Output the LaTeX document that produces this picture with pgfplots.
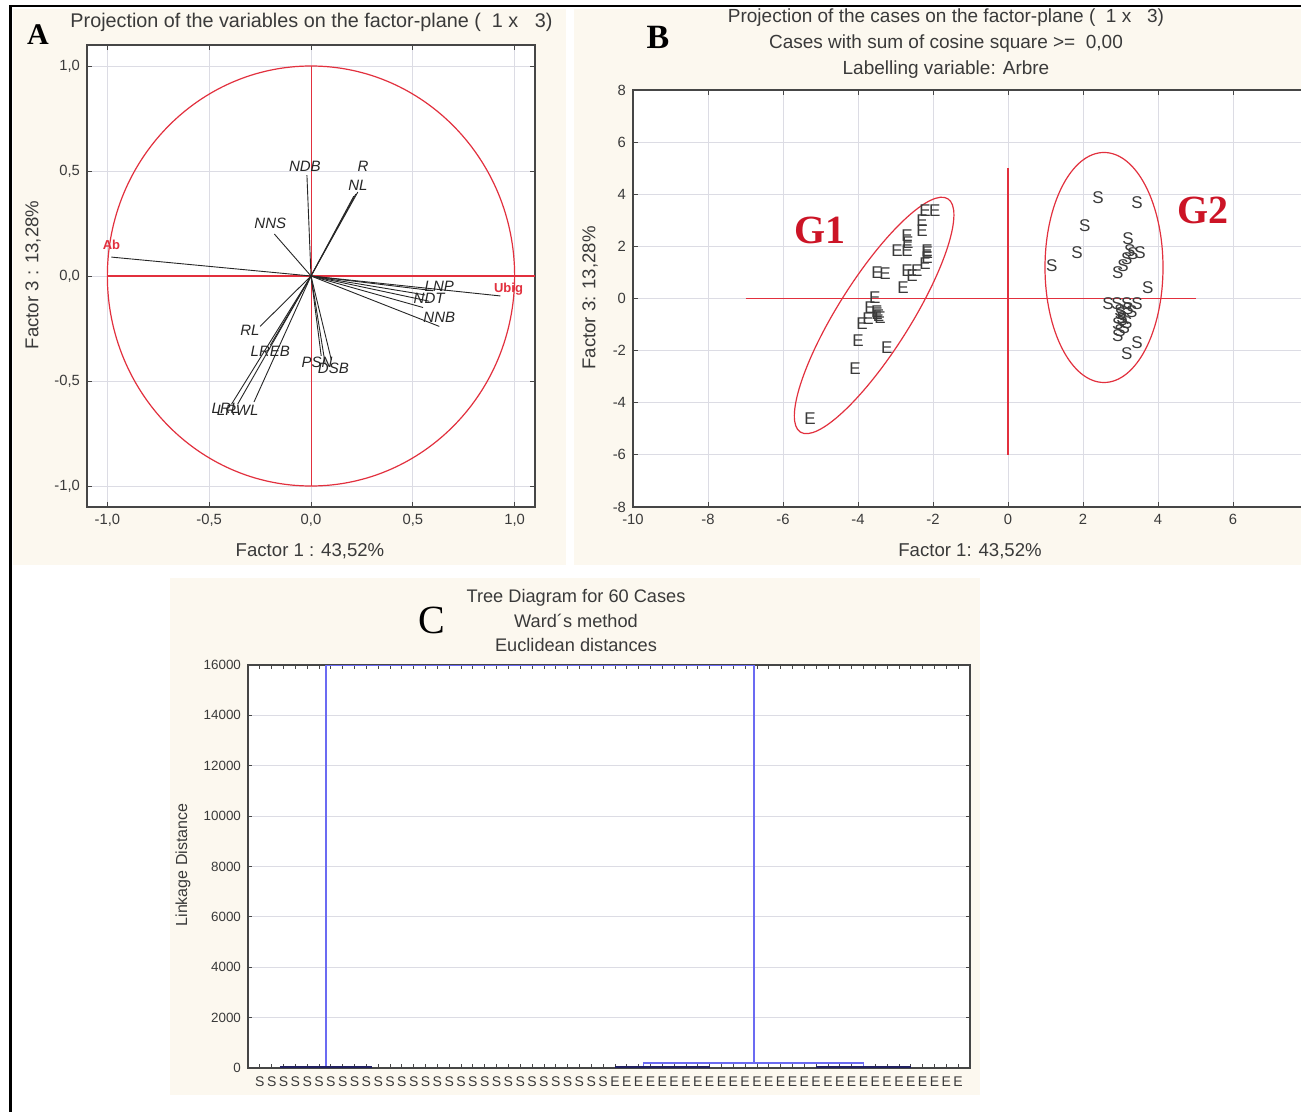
\documentclass[border=0pt]{standalone}
\usepackage{pgfplots}
\pgfplotsset{compat=1.18}
\usepackage{fontspec}
\setmainfont{Liberation Sans}
\newfontfamily\timesfont{Liberation Serif}
\definecolor{panelbg}{HTML}{FCF8EF}
\definecolor{pcared}{HTML}{E2303E}
\definecolor{grpred}{HTML}{CC1426}
\definecolor{treeblue}{HTML}{6B6BF2}
\definecolor{treedark}{HTML}{202060}
\definecolor{gridgray}{HTML}{DCDCE4}
\definecolor{txt}{HTML}{3A3A3A}

\pgfplotsset{
  statstyle/.style={
    scale only axis,
    axis background/.style={fill=white},
    axis line style={draw=gray!55!black, line width=0.8pt},
    grid=major,
    grid style={draw=gridgray, line width=0.4pt},
    tick style={draw=gray!55!black, line width=0.4pt},
    major tick length=2.5pt,
    tick align=inside,
    tick label style={font=\fontsize{7.4}{8}\selectfont, text=txt},
    /pgf/number format/assume math mode=true,
  },
  lettermark/.style={only marks, mark=text, text mark={#1}, text mark as node=true,
    text mark style={font=\fontsize{8.5}{9}\selectfont, text=txt, inner sep=0pt}},
}

\begin{document}
\begin{tikzpicture}
\path[use as bounding box] (0,0) rectangle (650.5pt,-556pt);
% panel backgrounds and frame
\fill[panelbg] (6.5pt,-4.5pt) rectangle (283pt,-282.5pt);
\fill[panelbg] (287pt,-4.5pt) rectangle (650.5pt,-282.5pt);
\fill[panelbg] (85pt,-289pt) rectangle (490pt,-547.5pt);
\draw[black, line width=1.1pt] (5.2pt,-556pt) -- (5.2pt,-3.2pt) -- (650.5pt,-3.2pt);

% ---------------- A: variables ----------------
\begin{axis}[statstyle,
  at={(43.5pt,-253.5pt)}, anchor=south west,
  width=224pt, height=231pt,
  xmin=-1.1, xmax=1.1, ymin=-1.1, ymax=1.1,
  xtick={-1,-0.5,0,0.5,1}, ytick={-1,-0.5,0,0.5,1},
  /pgf/number format/use comma,
  /pgf/number format/fixed,
  /pgf/number format/fixed zerofill,
  /pgf/number format/precision=1,
  clip=false,
]
\draw[pcared, line width=0.6pt] (axis cs:0,0) ellipse [x radius=1, y radius=1];
\addplot[pcared, line width=0.5pt] coordinates {(0,1) (0,-1)};
\addplot[pcared, line width=1.2pt] coordinates {(-1,0) (1.1,0)};
% loadings
\addplot[black!85, line width=0.45pt] coordinates {(0,0) (-0.98,0.09)};
\addplot[black!85, line width=0.45pt] coordinates {(0,0) (0.93,-0.095)};
\addplot[black!85, line width=0.45pt] coordinates {(0,0) (0.60,-0.07)};
\addplot[black!85, line width=0.45pt] coordinates {(0,0) (0.56,-0.09)};
\addplot[black!85, line width=0.45pt] coordinates {(0,0) (0.58,-0.12)};
\addplot[black!85, line width=0.45pt] coordinates {(0,0) (0.55,-0.15)};
\addplot[black!85, line width=0.45pt] coordinates {(0,0) (0.63,-0.24)};
\addplot[black!85, line width=0.45pt] coordinates {(0,0) (-0.02,0.48)};
\addplot[black!85, line width=0.45pt] coordinates {(0,0) (0.22,0.39)};
\addplot[black!85, line width=0.45pt] coordinates {(0,0) (0.23,0.40)};
\addplot[black!85, line width=0.45pt] coordinates {(0,0) (0.21,0.38)};
\addplot[black!85, line width=0.45pt] coordinates {(0,0) (-0.18,0.20)};
\addplot[black!85, line width=0.45pt] coordinates {(0,0) (-0.25,-0.24)};
\addplot[black!85, line width=0.45pt] coordinates {(0,0) (-0.20,-0.33)};
\addplot[black!85, line width=0.45pt] coordinates {(0,0) (-0.39,-0.61)};
\addplot[black!85, line width=0.45pt] coordinates {(0,0) (-0.36,-0.61)};
\addplot[black!85, line width=0.45pt] coordinates {(0,0) (-0.28,-0.60)};
\addplot[black!85, line width=0.45pt] coordinates {(0,0) (0.05,-0.38)};
\addplot[black!85, line width=0.45pt] coordinates {(0,0) (0.10,-0.40)};
\addplot[black!85, line width=0.45pt] coordinates {(0,0) (0.07,-0.42)};
% labels
\addplot[draw=none, mark=none, nodes near coords, point meta=explicit symbolic,
  every node near coord/.append style={anchor=center, inner sep=0pt,
    font=\itshape\fontsize{7.5}{8}\selectfont, text=black!85}]
  coordinates {
    (0.63,-0.048) [LNP] (0.58,-0.105) [NDT] (0.63,-0.195) [NNB]
    (-0.03,0.52) [NDB] (0.255,0.52) [R] (0.23,0.43) [NL]
    (-0.20,0.25) [NNS] (-0.30,-0.26) [RL] (-0.20,-0.36) [LREB]
    (-0.42,-0.63) [LRL] (-0.36,-0.64) [LRWL] (0.03,-0.41) [PSN]
    (0.11,-0.44) [DSB]
  };
\addplot[draw=none, mark=none, nodes near coords, point meta=explicit symbolic,
  every node near coord/.append style={anchor=center, inner sep=0pt,
    font=\bfseries\fontsize{6.5}{7}\selectfont, text=pcared}]
  coordinates { (-0.98,0.15) [Ab] (0.97,-0.065) [Ubig] };
\end{axis}

% ---------------- B: cases ----------------
\begin{axis}[statstyle,
  at={(316.5pt,-253.5pt)}, anchor=south west,
  width=337.5pt, height=208.5pt,
  xmin=-10, xmax=8, ymin=-8, ymax=8,
  xtick={-10,-8,...,6}, extra x ticks={8}, extra x tick labels={},
  ytick={-8,-6,...,8},
  clip=false,
]
\addplot[pcared, line width=0.7pt] coordinates {(-7,0) (5,0)};
\addplot[pcared, line width=0.6pt] coordinates {(0,5) (0,-6)};
\draw[pcared, line width=0.6pt] (axis cs:-3.57,-0.65) ellipse [x radius=69pt, y radius=18pt, rotate=57.7];
\draw[pcared, line width=0.6pt] (axis cs:2.56,1.19) ellipse [x radius=29.5pt, y radius=57.5pt];
\addplot[lettermark=E]
  coordinates {
    (-2.21,3.38) (-1.95,3.38) (-2.29,3.00) (-2.29,2.62) (-2.69,2.42)
    (-2.67,2.15) (-2.96,1.85) (-2.69,1.85) (-2.16,1.85) (-2.16,1.58)
    (-2.21,1.35) (-3.49,1.00) (-3.28,0.96) (-2.69,1.08) (-2.56,0.88)
    (-2.43,1.08) (-2.80,0.42) (-3.55,0.04) (-3.68,-0.35) (-3.49,-0.58)
    (-3.41,-0.73) (-3.73,-0.77) (-3.89,-0.96) (-4.00,-1.62) (-3.23,-1.88)
    (-4.08,-2.69) (-5.28,-4.62) (-3.45,-0.65) (-2.15,1.75) (-3.50,-0.50)
  };
\addplot[lettermark=S]
  coordinates {
    (2.40,3.88) (3.44,3.69) (2.05,2.81) (1.84,1.77) (1.17,1.27)
    (3.20,2.31) (3.25,1.85) (3.52,1.77) (3.33,1.73) (3.17,1.54)
    (3.07,1.27) (2.93,1.00) (3.73,0.42) (2.67,-0.19) (2.91,-0.19)
    (3.17,-0.19) (3.44,-0.19) (2.99,-0.46) (3.04,-0.73) (2.93,-0.96)
    (2.99,-1.23) (3.17,-0.92) (2.93,-1.42) (3.44,-1.69) (3.17,-2.12)
    (3.00,-0.60) (3.10,-1.10) (3.20,-0.40) (3.05,-0.80) (3.30,-0.50)
  };
\node[grpred, font=\timesfont\bfseries\fontsize{20}{22}\selectfont] at (axis cs:-5.01,2.62) {G1};
\node[grpred, font=\timesfont\bfseries\fontsize{20}{22}\selectfont] at (axis cs:5.20,3.38) {G2};
\end{axis}

% ---------------- C: dendrogram ----------------
\begin{axis}[statstyle,
  at={(124pt,-534pt)}, anchor=south west,
  width=361pt, height=201.5pt,
  xmin=0, xmax=61, ymin=0, ymax=16000,
  ytick={0,2000,...,16000},
  xtick={1,...,60},
  xticklabels={S,S,S,S,S,S,S,S,S,S,S,S,S,S,S,S,S,S,S,S,S,S,S,S,S,S,S,S,S,S,
               E,E,E,E,E,E,E,E,E,E,E,E,E,E,E,E,E,E,E,E,E,E,E,E,E,E,E,E,E,E},
  xmajorgrids=false, ymajorgrids=true,
  major tick length=2pt,
  scaled y ticks=false,
  yticklabel style={/pgf/number format/set thousands separator={}, /pgf/number format/fixed,
    font=\fontsize{6.7}{7}\selectfont},
  xticklabel style={font=\fontsize{7}{8}\selectfont, inner sep=1pt, yshift=-3pt},
]
\addplot[draw=treeblue, line width=0.8pt] coordinates {(6.6,30) (6.6,16000)};
\addplot[draw=treeblue, line width=0.8pt] coordinates {(42.75,200) (42.75,16000)};
\addplot[draw=treeblue, line width=0.8pt] coordinates {(6.6,16000) (42.75,16000)};
\addplot[draw=treeblue, line width=0.7pt] coordinates {(35,40) (33.4,40) (33.4,200) (52,200) (52,40)};
\addplot[draw=treedark, line width=0.9pt] coordinates {(2.7,30) (10.5,30)};
\addplot[draw=treedark, line width=0.9pt] coordinates {(31,40) (39,40)};
\addplot[draw=treedark, line width=0.9pt] coordinates {(48,40) (56,40)};
\end{axis}

% ---------------- texts ----------------
\begin{scope}[text=txt]
\node[font=\timesfont\bfseries\fontsize{15}{16}\selectfont, text=black] at (19pt,-17.5pt) {A};
\node[font=\timesfont\bfseries\fontsize{17}{18}\selectfont, text=black] at (329pt,-18.5pt) {B};
\node[font=\timesfont\fontsize{20}{22}\selectfont, text=black] at (216pt,-310pt) {C};

\node[font=\fontsize{9.9}{11}\selectfont] at (155.75pt,-11pt) {Projection of the variables on the factor-plane (\ \ 1 x \ \ 3)};
\node[font=\fontsize{9.3}{10}\selectfont] at (155pt,-275.5pt) {Factor 1 : 43,52\%};
\node[font=\fontsize{9.3}{10}\selectfont, rotate=90] at (16.5pt,-137.5pt) {Factor 3 : 13,28\%};

\node[font=\fontsize{9.5}{10}\selectfont] at (473pt,-9pt) {Projection of the cases on the factor-plane (\ \ 1 x \ \ 3)};
\node[font=\fontsize{9.5}{10}\selectfont] at (473pt,-22pt) {Cases with sum of cosine square >= \ 0,00};
\node[font=\fontsize{9.5}{10}\selectfont] at (473pt,-35pt) {Labelling variable: Arbre};
\node[font=\fontsize{9.3}{10}\selectfont] at (485pt,-275.5pt) {Factor 1: 43,52\%};
\node[font=\fontsize{9.3}{10}\selectfont, rotate=90] at (295pt,-149pt) {Factor 3: 13,28\%};

\node[font=\fontsize{9.1}{10}\selectfont] at (288pt,-299pt) {Tree Diagram for 60 Cases};
\node[font=\fontsize{9.1}{10}\selectfont] at (288pt,-310.5pt) {Ward´s method};
\node[font=\fontsize{9.1}{10}\selectfont] at (288pt,-322.5pt) {Euclidean distances};
\node[font=\fontsize{8}{9}\selectfont, rotate=90] at (91.5pt,-432.5pt) {Linkage Distance};
\end{scope}
\end{tikzpicture}
\end{document}
